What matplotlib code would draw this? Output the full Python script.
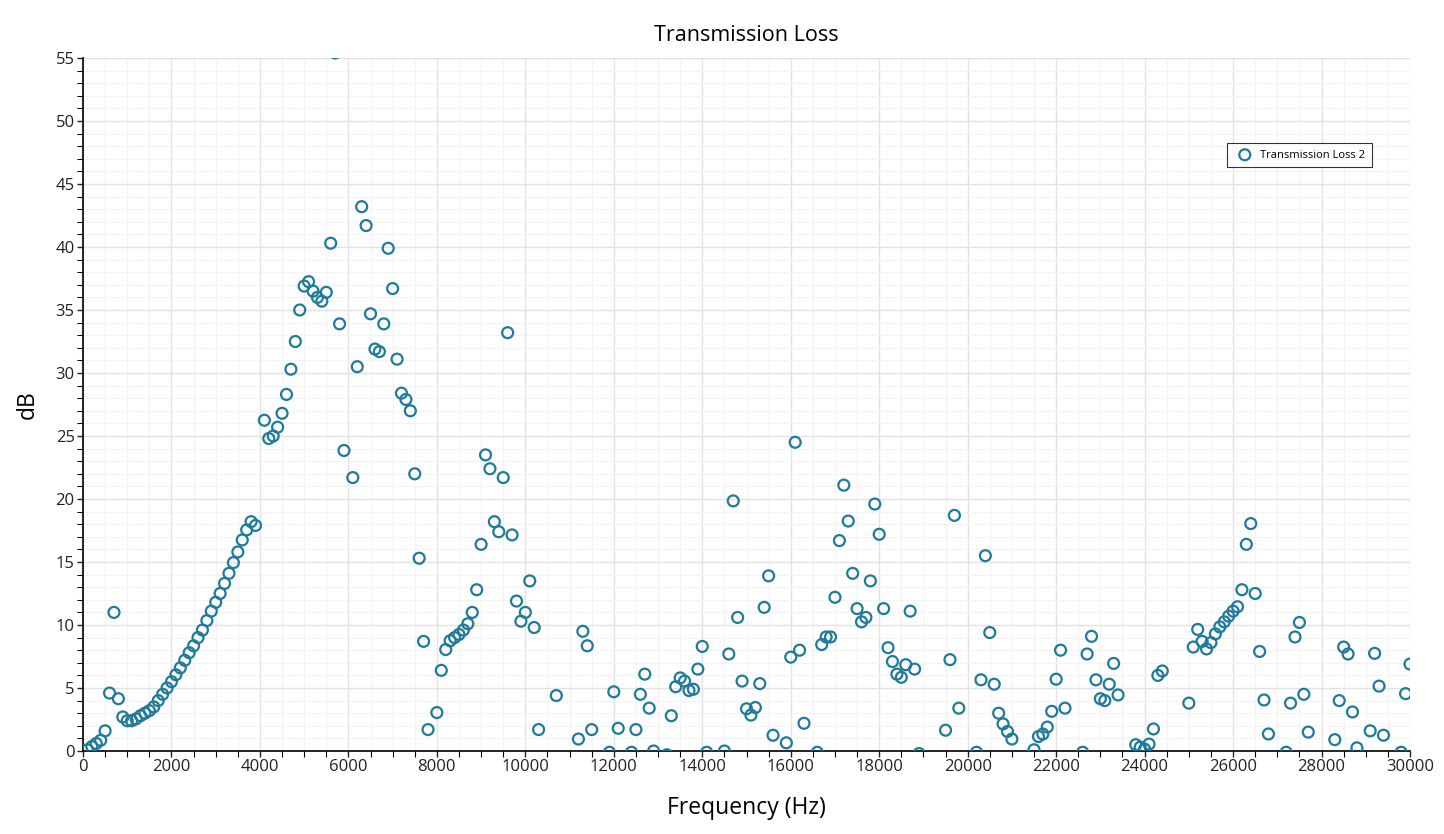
import matplotlib.pyplot as plt
from matplotlib.ticker import MultipleLocator

plt.rcParams['font.family'] = ['Open Sans', 'DejaVu Sans']

# frequency (Hz) of every visible point
freq = [100, 200, 300, 400, 500, 600, 700, 800, 900, 1000,
        1100, 1200, 1300, 1400, 1500, 1600, 1700, 1800, 1900, 2000,
        2100, 2200, 2300, 2400, 2500, 2600, 2700, 2800, 2900, 3000,
        3100, 3200, 3300, 3400, 3500, 3600, 3700, 3800, 3900,
        4100, 4200, 4300, 4400, 4500, 4600, 4700, 4800, 4900, 5000,
        5100, 5200, 5300, 5400, 5500, 5600, 5700, 5800, 5900,
        6100, 6200, 6300, 6400, 6500, 6600, 6700, 6800, 6900, 7000,
        7100, 7200, 7300, 7400, 7500, 7600, 7700, 7800,
        8000, 8100, 8200, 8300, 8400, 8500, 8600, 8700, 8800, 8900,
        9000, 9100, 9200, 9300, 9400, 9500, 9600, 9700, 9800, 9900,
        10000, 10100, 10200, 10300, 10700, 11200, 11300, 11400, 11500,
        11900, 12000, 12100, 12400, 12500, 12600, 12700, 12800, 12900,
        13200, 13300, 13400, 13500, 13600, 13700, 13800, 13900, 14000,
        14100, 14500, 14600, 14700, 14800, 14900, 15000, 15100, 15200,
        15300, 15400, 15500, 15600, 15900, 16000, 16100, 16200, 16300,
        16600, 16700, 16800, 16900, 17000, 17100, 17200, 17300, 17400,
        17500, 17600, 17700, 17800, 17900, 18000, 18100, 18200, 18300,
        18400, 18500, 18600, 18700, 18800, 18900, 19500, 19600, 19700,
        19800, 20200, 20300, 20400, 20500, 20600, 20700, 20800, 20900,
        21000, 21500, 21600, 21700, 21800, 21900, 22000, 22100, 22200,
        22600, 22700, 22800, 22900, 23000, 23100, 23200, 23300, 23400,
        23800, 23900, 24000, 24100, 24200, 24300, 24400,
        25000, 25100, 25200, 25300, 25400, 25500, 25600, 25700, 25800,
        25900, 26000, 26100, 26200, 26300, 26400, 26500, 26600, 26700,
        26800, 27200, 27300, 27400, 27500, 27600, 27700,
        28300, 28400, 28500, 28600, 28700, 28800,
        29100, 29200, 29300, 29400, 29800, 29900, 30000]

# transmission loss (dB)
loss = [0.1, 0.35, 0.6, 0.85, 1.6, 4.6, 11.0, 4.15, 2.7, 2.4,
        2.4, 2.55, 2.8, 3.0, 3.2, 3.5, 4.0, 4.5, 5.0, 5.5,
        6.05, 6.6, 7.2, 7.8, 8.35, 9.0, 9.6, 10.35, 11.1, 11.8,
        12.5, 13.3, 14.1, 14.95, 15.8, 16.75, 17.55, 18.2, 17.9,
        26.25, 24.8, 25.0, 25.7, 26.8, 28.3, 30.3, 32.5, 35.0, 36.9,
        37.25, 36.5, 36.0, 35.7, 36.4, 40.3, 55.4, 33.9, 23.85,
        21.7, 30.5, 43.2, 41.7, 34.7, 31.9, 31.7, 33.9, 39.9, 36.7,
        31.1, 28.4, 27.9, 27.0, 22.0, 15.3, 8.7, 1.7,
        3.05, 6.4, 8.05, 8.75, 9.0, 9.25, 9.6, 10.1, 11.0, 12.8,
        16.4, 23.5, 22.4, 18.2, 17.4, 21.7, 33.2, 17.15, 11.9, 10.3,
        11.0, 13.5, 9.8, 1.7, 4.4, 0.95, 9.5, 8.35, 1.7,
        -0.1, 4.7, 1.8, -0.1, 1.7, 4.5, 6.1, 3.4, 0.0,
        -0.3, 2.8, 5.1, 5.8, 5.55, 4.8, 4.9, 6.5, 8.3,
        -0.1, 0.0, 7.7, 19.85, 10.6, 5.55, 3.35, 2.85, 3.45,
        5.35, 11.4, 13.9, 1.25, 0.65, 7.45, 24.5, 8.0, 2.2,
        -0.1, 8.45, 9.05, 9.05, 12.2, 16.7, 21.1, 18.25, 14.1,
        11.3, 10.25, 10.6, 13.5, 19.6, 17.2, 11.3, 8.2, 7.1,
        6.1, 5.85, 6.85, 11.1, 6.5, -0.2, 1.65, 7.25, 18.7,
        3.4, -0.1, 5.65, 15.5, 9.4, 5.3, 3.0, 2.15, 1.55,
        0.95, 0.1, 1.15, 1.35, 1.9, 3.15, 5.7, 8.0, 3.4,
        -0.1, 7.7, 9.1, 5.65, 4.15, 4.0, 5.3, 6.95, 4.45,
        0.5, 0.3, 0.15, 0.55, 1.75, 6.0, 6.35,
        3.8, 8.25, 9.65, 8.7, 8.1, 8.6, 9.3, 9.85, 10.25,
        10.7, 11.1, 11.45, 12.8, 16.4, 18.05, 12.5, 7.9, 4.05,
        1.35, -0.1, 3.8, 9.05, 10.2, 4.5, 1.5,
        0.9, 4.0, 8.25, 7.7, 3.1, 0.25,
        1.6, 7.75, 5.15, 1.25, -0.1, 4.55, 6.9]

fig = plt.figure(figsize=(14.44, 8.34), dpi=100)
ax = fig.add_axes([83 / 1444, 1 - 751 / 834, (1410 - 83) / 1444, (751 - 58) / 834])

ax.scatter(freq, loss, s=62, facecolors='none', edgecolors='#1f7a9b',
           linewidths=1.6, label='Transmission Loss 2', zorder=3)

ax.set_xlim(0, 30000)
ax.set_ylim(0, 55)
ax.xaxis.set_major_locator(MultipleLocator(2000))
ax.xaxis.set_minor_locator(MultipleLocator(500))
ax.yaxis.set_major_locator(MultipleLocator(5))
ax.yaxis.set_minor_locator(MultipleLocator(1))

ax.grid(which='major', color='#e2e2e2', linewidth=1.0, zorder=0)
ax.grid(which='minor', color='#f3f3f3', linewidth=0.8, zorder=0)
ax.set_axisbelow(True)

for s in ['top', 'right']:
    ax.spines[s].set_visible(False)
ax.spines['left'].set_color('black')
ax.spines['bottom'].set_color('black')
ax.spines['left'].set_linewidth(1.2)
ax.spines['bottom'].set_linewidth(1.2)

ax.tick_params(which='major', length=4, width=1, labelsize=12, colors='#222222', pad=2)
ax.tick_params(which='minor', length=4, width=0.8)

ax.set_title('Transmission Loss', fontsize=15.5, pad=12)
ax.set_xlabel('Frequency (Hz)', fontsize=16.5, labelpad=15)
ax.set_ylabel('dB', fontsize=16.5, labelpad=11)

leg = ax.legend(loc='upper left', bbox_to_anchor=(1227 / 1444, 1 - 143 / 834),
                bbox_transform=fig.transFigure, fontsize=8, frameon=True,
                fancybox=False, borderpad=0.6, handletextpad=0.4, borderaxespad=0)
leg.get_frame().set_edgecolor('black')
leg.get_frame().set_linewidth(0.8)

fig.savefig('out.png', dpi=100)
